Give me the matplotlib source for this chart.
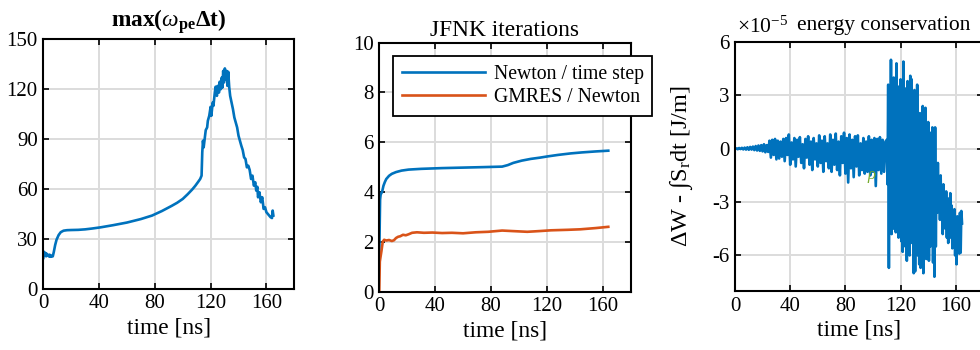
import numpy as np
import matplotlib
matplotlib.use('Agg')
import matplotlib.pyplot as plt

plt.rcParams['font.family'] = ['Liberation Serif', 'DejaVu Serif']
plt.rcParams['mathtext.fontset'] = 'custom'
plt.rcParams['mathtext.rm'] = 'Liberation Serif'
plt.rcParams['mathtext.it'] = 'Liberation Serif:italic'
plt.rcParams['mathtext.bf'] = 'Liberation Serif:bold'
plt.rcParams['axes.unicode_minus'] = False

AZUL = '#0072BD'
NARANJA = '#D95319'
VERDE = '#77AC30'

# --- panel 1: max(omega_pe * dt) ---
t_wdt = [0, 0.5, 1, 1.5, 2, 2.5, 3, 3.5, 4, 4.5,
         5, 5.5, 6, 6.8, 7.5, 8.5, 9.5, 11, 12.5, 14.5,
         17, 20, 25, 30, 35, 41, 50, 60, 70, 78,
         85, 92, 96, 100, 103.5, 106.7, 109, 111, 112.5, 113.5,
         114, 114.5, 115, 116, 116.5, 117.5, 118, 119, 120, 120.5,
         121.5, 122, 123, 123.6, 124.5, 125, 126, 126.5, 127.3, 128,
         128.5, 129, 129.5, 130.2, 130.8, 131.5, 132, 132.6, 133.3, 134,
         135, 136, 137, 138.2, 139, 140, 141, 142, 143, 144,
         145, 146, 147, 148, 149, 150, 151, 152, 152.7, 153.5,
         154, 155, 156, 157, 158, 159, 160, 161, 162, 163,
         164, 164.5, 165]
wdt = [18.5, 22.2, 20.0, 21.5, 19.5, 21.0, 19.8, 20.3, 19.4, 20.5,
       19.2, 20.0, 19.3, 19.5, 22.0, 26.3, 29.5, 32.3, 34.0, 34.9,
       35.2, 35.3, 35.4, 35.7, 36.2, 36.9, 38.2, 39.8, 41.9, 44.0,
       46.7, 49.8, 51.7, 54.0, 56.8, 59.6, 61.9, 64.2, 66.0, 68.0,
       82.0, 89.0, 85.0, 92.0, 95.4, 97.0, 101.0, 104.0, 109.4, 104.0,
       112.0, 110.0, 118.0, 121.5, 116.0, 122.0, 118.0, 124.5, 120.0, 127.0,
       121.0, 131.0, 124.0, 132.5, 126.0, 131.0, 122.0, 130.5, 121.5, 116.0,
       112.0, 108.0, 103.0, 99.4, 97.0, 92.0, 89.0, 86.0, 83.4, 79.0,
       78.0, 73.0, 74.0, 71.4, 66.0, 68.0, 62.0, 64.0, 59.0, 61.3,
       55.0, 58.0, 52.0, 55.0, 48.0, 49.0, 46.0, 45.0, 44.0, 43.0,
       42.5, 47.0, 44.0]

# --- panel 2: JFNK iterations ---
t_newton = [0, 0.3, 0.6, 1, 2, 3, 4, 5, 7, 9, 12, 16, 21, 30, 45, 60, 75,
            88, 92, 96, 102, 108.5, 115, 120.5, 128, 137, 145, 155, 164]
newton = [1.35, 2.6, 3.7, 3.9, 4.0, 4.25, 4.4, 4.52, 4.65, 4.73, 4.8, 4.86,
          4.9, 4.93, 4.96, 4.98, 5.0, 5.02, 5.08, 5.17, 5.26, 5.33, 5.38,
          5.43, 5.49, 5.55, 5.59, 5.63, 5.66]
t_gmres = [0, 0.4, 0.8, 1.5, 2.5, 3.5, 5, 7, 9, 10.5, 12, 13.5, 15, 17, 19,
           21, 23.5, 27, 32, 38, 45, 52, 60, 69, 78, 88, 95, 106, 115, 123,
           135, 144, 155, 164]
gmres = [0.0, 1.2, 1.35, 1.6, 2.0, 2.08, 2.05, 2.07, 2.03, 2.06, 2.15, 2.2,
         2.22, 2.28, 2.26, 2.3, 2.36, 2.38, 2.36, 2.37, 2.35, 2.36, 2.34,
         2.38, 2.4, 2.45, 2.43, 2.4, 2.43, 2.46, 2.48, 2.5, 2.55, 2.6]

# --- panel 3: energy conservation, en unidades de 1e-5 J/m ---
# tramo A: t = 0..24 ns cada 1 ns
energia_a = [0, 0.02, -0.03, 0.04, -0.02, 0.05, -0.04, 0.06, -0.05, 0.08,
             -0.06, 0.1, -0.05, 0.12, -0.08, 0.15, -0.1, 0.18, -0.12, 0.2,
             -0.15, 0.25, -0.2, 0.2, -0.18]
# tramo B: t = 25..109 ns cada 1 ns
energia_b = [0.45, -0.5, 0.5, -0.35, 0.55, -0.6, 0.45, -0.55, 0.4, -0.45,
             0.55, -0.7, 0.6, -0.35, 0.8, -0.9, 0.35, -0.6, 0.6, -1.0,
             0.5, -0.45, 0.65, -0.8, 0.25, -1.1, 0.55, -0.5, 0.7, -0.9,
             0.4, -1.2, 0.6, -0.6, 0.3, -1.0, 0.75, -0.8, 0.45, -1.3,
             0.7, -0.7, 0.3, -1.1, 0.8, -1.3, 0.5, -0.9, 0.85, -1.2,
             0.4, -1.5, 0.7, -0.8, 0.9, -1.4, 0.6, -1.9, 0.8, -1.1,
             0.5, -1.6, 0.7, -1.0, 0.75, -1.5, 0.3, -1.2, 0.6, -1.4,
             0.4, -1.3, 0.7, -1.5, 0.5, -1.3, 0.6, -2.1, 0.55, -1.2,
             0.65, -1.4, 0.5, -1.3, 0.4]
# tramo C: t = 110..164.5 ns cada 0.5 ns
energia_c = [0.5, -2.0, 3.6, -6.7, 3.2, -4.0, 5.0, -4.8, 3.5, -4.5,
             4.0, -3.8, 2.8, -4.7, 4.8, -4.2, 3.5, -5.0, 2.5, -4.4,
             3.9, -5.2, 3.0, -5.8, 4.9, -4.5, 3.4, -5.5, 2.6, -6.3,
             3.8, -5.0, 2.9, -6.0, 4.1, -5.3, 3.9, -4.6, 2.4, -7.0,
             3.3, -6.9, 2.2, -5.4, 3.6, -6.0, 1.8, -6.5, 2.0, -6.7,
             1.4, -5.2, 2.4, -7.0, 1.0, -5.8, 2.3, -6.2, 0.6, -5.0,
             1.5, -6.3, 0.2, -5.5, 0.9, -4.8, 1.2, -6.4, -0.3, -7.2,
             1.2, -5.5, -1.0, -3.6, -0.8, -3.2, -1.8, -4.0, -1.5, -3.8,
             -2.2, -4.8, -2.0, -4.3, -2.6, -4.5, -2.4, -5.0, -3.0, -5.3,
             -2.8, -4.6, -2.5, -5.0, -3.2, -5.6, -3.6, -5.2, -3.4, -6.0,
             -4.2, -6.5, -3.8, -5.4, -4.0, -5.9, -3.6, -5.85, -3.5, -4.2]

t_energia = np.concatenate([np.arange(len(energia_a)) * 1.0,
                            25 + np.arange(len(energia_b)) * 1.0,
                            110 + np.arange(len(energia_c)) * 0.5])
energia = np.concatenate([energia_a, energia_b, energia_c])

FS_TICK = 15
FS_LABEL = 16.8
LW = 1.9


def estilo(ax, ylim, yticks):
    ax.set_xlim(0, 180)
    ax.set_xticks([0, 40, 80, 120, 160])
    ax.set_ylim(*ylim)
    ax.set_yticks(yticks)
    ax.grid(True, color='#dcdcdc', linewidth=1.4)
    ax.set_axisbelow(True)
    ax.tick_params(direction='in', top=True, right=True, length=4, width=1.2,
                   labelsize=FS_TICK, pad=4)
    for s in ax.spines.values():
        s.set_linewidth(1.5)
    ax.set_xlabel('time [ns]', fontsize=FS_LABEL, labelpad=3)


fig = plt.figure(figsize=(9.8, 3.5), dpi=100)

ax1 = fig.add_axes([0.0442, 0.1751, 0.2561, 0.7126])
ax1.plot(t_wdt, wdt, color=AZUL, lw=LW)
estilo(ax1, (0, 150), [0, 30, 60, 90, 120, 150])
ax1.set_title(r'$\mathbf{max(}\omega_{\mathbf{pe}}\mathbf{\Delta t)}$',
              fontsize=FS_LABEL, pad=9)

ax2 = fig.add_axes([0.3870, 0.1671, 0.2565, 0.7109])
ax2.plot(t_newton, newton, color=AZUL, lw=LW, label='Newton / time step')
ax2.plot(t_gmres, gmres, color=NARANJA, lw=LW, label='GMRES / Newton')
estilo(ax2, (0, 10), [0, 2, 4, 6, 8, 10])
ax2.set_title('JFNK iterations', fontsize=FS_LABEL, pad=5)
leg = ax2.legend(loc='upper left', bbox_to_anchor=(0.0545, 0.9465),
                 borderaxespad=0, fontsize=14.2, handlelength=4.2,
                 handletextpad=0.45, borderpad=0.45, labelspacing=0.2,
                 fancybox=False, framealpha=1, edgecolor='black')
leg.get_frame().set_linewidth(1.3)

ax3 = fig.add_axes([0.75, 0.1686, 0.2535, 0.7114])
ax3.plot(t_energia, energia, color=AZUL, lw=LW)
estilo(ax3, (-8, 6), [-6, -3, 0, 3, 6])
ax3.set_ylabel('ΔW - ∫S$_\\mathrm{r}$dt [J/m]', fontsize=17.5, labelpad=12)
ax3.text(0.01, 1.035, r'$\times$10$^{-5}$', transform=ax3.transAxes,
         ha='left', va='baseline', fontsize=FS_TICK + 0.5)
ax3.text(0.6, 1.048, 'energy conservation', transform=ax3.transAxes,
         ha='center', va='baseline', fontsize=15.5)
ax3.text(96, -1.7, r'$\rho$', color=VERDE, fontsize=12)

fig.savefig('out.png', dpi=100)
